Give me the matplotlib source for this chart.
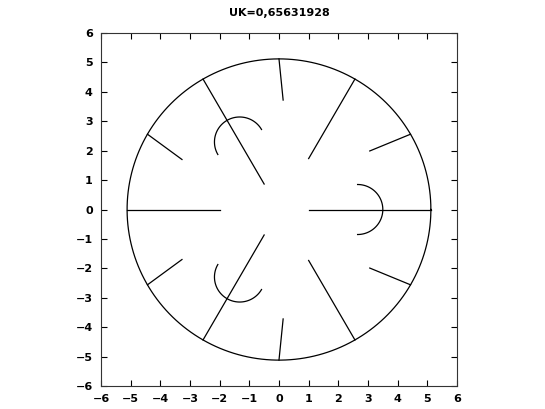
import numpy as np
import matplotlib
matplotlib.use("Agg")
import matplotlib.pyplot as plt

# outer circle
r_outer = 5.12

# long spokes: angle (deg) and inner radius
spoke_angles = [0, 60, 120, 180, 240, 300]
spoke_inner = [1.0, 2.0, 1.0, 2.0, 1.0, 2.0]

# short lines from circle inward: outer angle (deg) and inner end point
short_angles = [30, 90, 150, 210, 270, 330]
short_in_x = [3.06, 0.14, -3.27, -3.27, 0.14, 3.06]
short_in_y = [1.99, 3.72, 1.70, -1.70, -3.72, -1.99]

# half-circle arcs: direction (deg), centre distance, radius
arc_dirs = [0, 120, 240]
arc_dist = 2.65
arc_rad = 0.85

ticks = [-6, -5, -4, -3, -2, -1, 0, 1, 2, 3, 4, 5, 6]
title = "UK=0,65631928"

fig = plt.figure(figsize=(5.45, 4.09), dpi=100)
ax = fig.add_axes([0.1853, 0.0562, 0.6532, 0.8631])

lw = 0.9
t = np.linspace(0, 2 * np.pi, 400)
ax.plot(r_outer * np.cos(t), r_outer * np.sin(t), color="black", lw=lw)

for a, ri in zip(spoke_angles, spoke_inner):
    th = np.radians(a)
    ax.plot([ri * np.cos(th), r_outer * np.cos(th)],
            [ri * np.sin(th), r_outer * np.sin(th)], color="black", lw=lw)

for a, xi, yi in zip(short_angles, short_in_x, short_in_y):
    th = np.radians(a)
    ax.plot([r_outer * np.cos(th), xi], [r_outer * np.sin(th), yi],
            color="black", lw=lw)

for d in arc_dirs:
    th = np.radians(d)
    cx, cy = arc_dist * np.cos(th), arc_dist * np.sin(th)
    s = np.linspace(th - np.pi / 2, th + np.pi / 2, 100)
    ax.plot(cx + arc_rad * np.cos(s), cy + arc_rad * np.sin(s),
            color="black", lw=lw)

ax.set_xlim(-6, 6)
ax.set_ylim(-6, 6)
ax.set_xticks(ticks)
ax.set_yticks(ticks)
ax.tick_params(direction="in", top=True, right=True, length=4, width=0.8,
               labelsize=8, pad=6)
for lab in ax.get_xticklabels() + ax.get_yticklabels():
    lab.set_fontweight("bold")
for sp in ax.spines.values():
    sp.set_linewidth(0.8)
    sp.set_color("#333333")
ax.set_title(title, fontsize=8, fontweight="bold", pad=12)

fig.savefig("out.png", dpi=100)
